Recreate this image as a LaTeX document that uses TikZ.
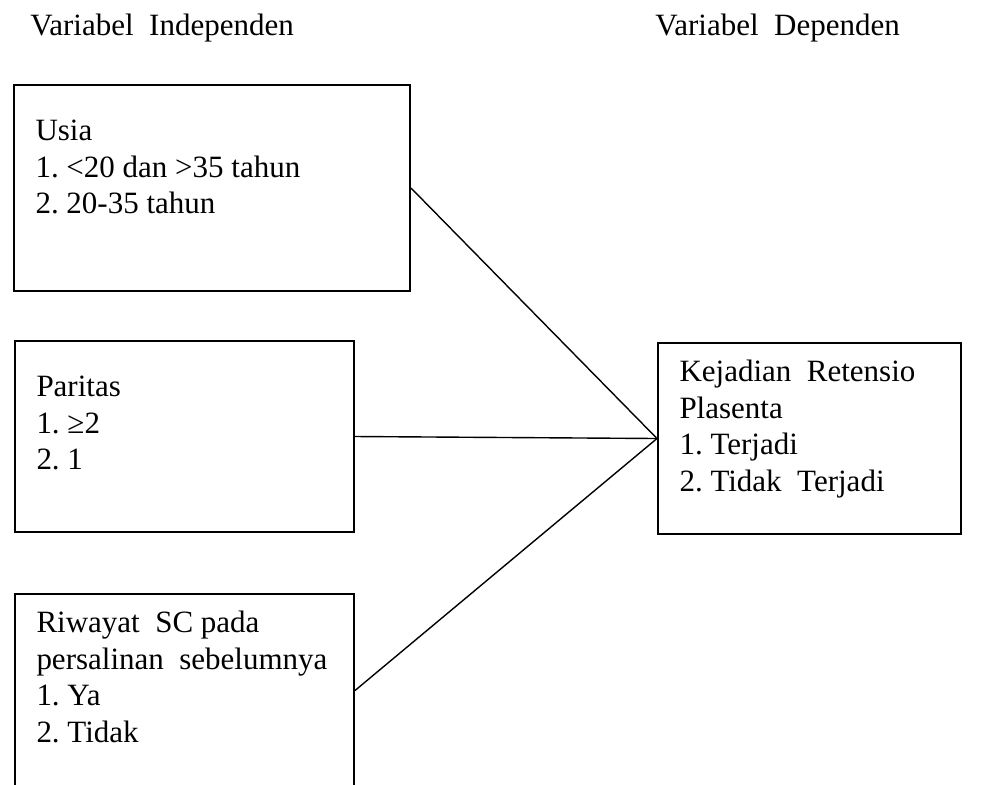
\documentclass[tikz,border=0pt]{standalone}
\usepackage{fontspec}
\setmainfont{Liberation Serif}
\usepackage{tikz}
\frenchspacing
\newcommand{\isi}[3]{\parbox[t][#2][t]{#1}{\strut #3}}
\tikzset{
  heading/.style={
    anchor=base west,
    inner sep=0pt
  },
  varbox/.style={
    draw,
    line width=1pt,
    anchor=north west,
    inner xsep=10.75pt
  },
  link/.style={
    line width=0.7pt
  }
}

\begin{document}
\begin{tikzpicture}[x=0.5pt, y=-0.5pt, font=\fontsize{15.5}{18.3}\selectfont]
  \useasboundingbox (0,0) rectangle (993,784);
  \node[heading] (indep) at (30,35) {Variabel\ \ Independen};
  \node[heading] (dep) at (655,35) {Variabel\ \ Dependen};

  \node[varbox, inner ysep=15pt] (usia) at (13,84) {
    \isi{176.5pt}{73pt}{Usia\\
    1. <20 dan >35 tahun\\
    2. 20-35 tahun}
  };
  \node[varbox, inner ysep=15pt] (paritas) at (14,340) {
    \isi{148pt}{65.5pt}{Paritas\\
    1. ≥2\\
    2. 1}
  };
  \node[varbox, inner ysep=6.45pt] (riwayat) at (14,593) {
    \isi{148pt}{83.6pt}{Riwayat\ \ SC pada\\
    persalinan\ \ sebelumnya\\
    1. Ya\\
    2. Tidak}
  };
  \node[varbox, inner ysep=6.45pt] (retensio) at (657,342) {
    \isi{130pt}{82.6pt}{Kejadian\ \ Retensio\\
    Plasenta\\
    1. Terjadi\\
    2. Tidak\ \ Terjadi}
  };

  \draw[link] (usia.east) -- (retensio.west);
  \draw[link] (paritas.east) -- (retensio.west);
  \draw[link] (riwayat.east) -- (retensio.west);
\end{tikzpicture}
\end{document}
